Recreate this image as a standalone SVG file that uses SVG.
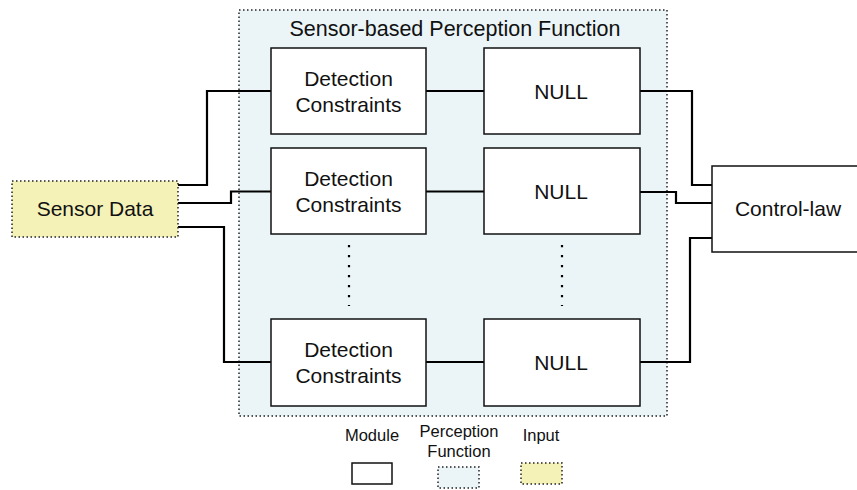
<svg xmlns="http://www.w3.org/2000/svg" width="857" height="490" viewBox="0 0 857 490">
<style>
  text { font-family: "Liberation Sans", Arial, sans-serif; fill: #111; text-anchor: middle; }
  .t21 { font-size: 21px; }
  .title { font-size: 21.5px; }
  .t16 { font-size: 16.5px; }
  .module { fill: #ffffff; stroke: #111; stroke-width: 1.5; }
  .perc { fill: #ebf5f7; stroke: #222; stroke-width: 1.5; stroke-dasharray: 1.5 2.5; }
  .input { fill: #f5f2b8; stroke: #222; stroke-width: 1.5; stroke-dasharray: 1.5 2.5; }
  .conn { fill: none; stroke: #000; stroke-width: 2.2; }
  .dots { fill: none; stroke: #000; stroke-width: 2.2; stroke-dasharray: 2.2 7.8; }
</style>
<rect width="857" height="490" fill="#ffffff"/>

<g id="perception-function">
  <rect class="perc" x="239" y="10" width="428" height="406"/>
  <text class="title" x="455" y="36">Sensor-based Perception Function</text>
</g>

<g id="connectors">
  <polyline class="conn" points="178,185 207,185 207,91 271,91"/>
  <polyline class="conn" points="178,203 231,203 231,191.5 271,191.5"/>
  <polyline class="conn" points="178,227 224,227 224,362 271,362"/>
  <line class="conn" x1="426" y1="91" x2="484" y2="91"/>
  <line class="conn" x1="426" y1="191.5" x2="484" y2="191.5"/>
  <line class="conn" x1="426" y1="362" x2="484" y2="362"/>
  <polyline class="conn" points="640,91 692,91 692,185 712,185"/>
  <polyline class="conn" points="640,192 676,192 676,203 712,203"/>
  <polyline class="conn" points="640,362 690,362 690,238 712,238"/>
</g>

<g id="sensor-data">
  <rect class="input" x="12" y="181" width="166" height="56"/>
  <text class="t21" x="95" y="216">Sensor Data</text>
</g>

<g id="detection-1">
  <rect class="module" x="271" y="48" width="155" height="86"/>
  <text class="t21" x="348.5" y="86">Detection</text>
  <text class="t21" x="348.5" y="112">Constraints</text>
</g>
<g id="detection-2">
  <rect class="module" x="271" y="148" width="155" height="86"/>
  <text class="t21" x="348.5" y="186">Detection</text>
  <text class="t21" x="348.5" y="212">Constraints</text>
</g>
<g id="detection-n">
  <rect class="module" x="271" y="319" width="155" height="87"/>
  <text class="t21" x="348.5" y="357">Detection</text>
  <text class="t21" x="348.5" y="383">Constraints</text>
</g>

<g id="null-1">
  <rect class="module" x="484" y="48" width="156" height="86"/>
  <text class="t21" x="561" y="99">NULL</text>
</g>
<g id="null-2">
  <rect class="module" x="484" y="148" width="156" height="86"/>
  <text class="t21" x="561" y="199">NULL</text>
</g>
<g id="null-n">
  <rect class="module" x="484" y="319" width="156" height="87"/>
  <text class="t21" x="561" y="370">NULL</text>
</g>

<g id="ellipsis">
  <line class="dots" x1="349" y1="245" x2="349" y2="306"/>
  <line class="dots" x1="562" y1="245" x2="562" y2="306"/>
</g>

<g id="control-law">
  <rect class="module" x="712" y="166" width="160" height="86"/>
  <text class="t21" x="788" y="216">Control-law</text>
</g>

<g id="legend">
  <text class="t16" x="372" y="441">Module</text>
  <rect class="module" x="352" y="463" width="40" height="21"/>
  <text class="t16" x="459" y="437">Perception</text>
  <text class="t16" x="459" y="457">Function</text>
  <rect class="perc" x="438" y="467" width="41" height="21"/>
  <text class="t16" x="541" y="441">Input</text>
  <rect class="input" x="521" y="463" width="41" height="21"/>
</g>
</svg>
